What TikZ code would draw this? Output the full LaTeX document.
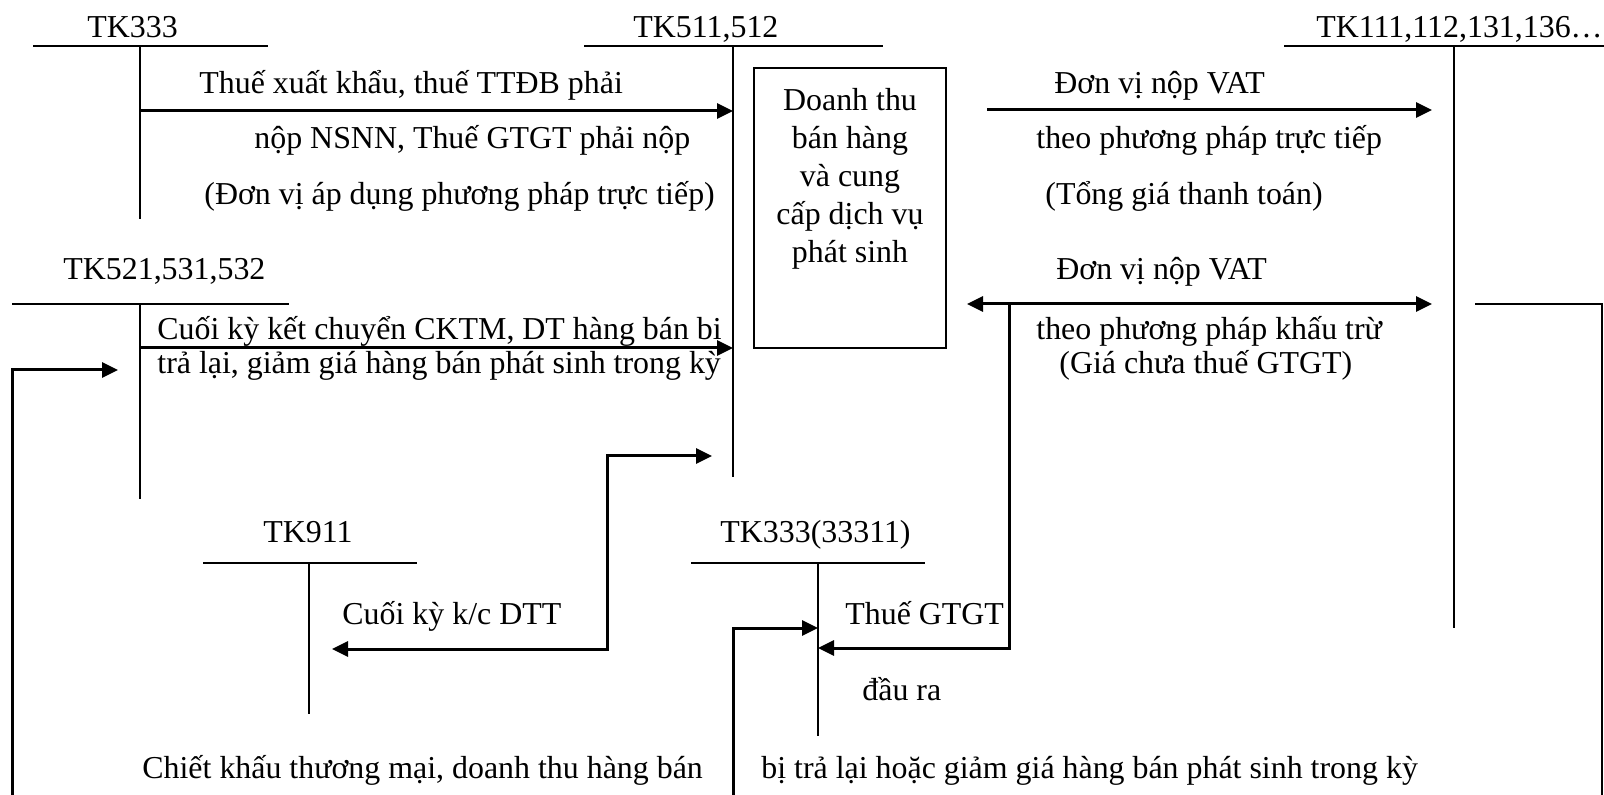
\documentclass[tikz,border=0pt]{standalone}
\usepackage{fontspec}
\setmainfont{Liberation Serif}
\usetikzlibrary{arrows.meta}
\begin{document}
\begin{tikzpicture}[x=0.5pt,y=-0.5pt,
  lbl/.style={anchor=base west,inner sep=0pt,font=\fontsize{15.95}{18}\selectfont},
  mid/.style={lbl,anchor=base},
  acct/.style={line width=1.1pt},
  flow/.style={line width=1.5pt,-{Triangle[length=8pt,width=7.5pt]}},
  flowboth/.style={line width=1.5pt,{Triangle[length=8pt,width=7.5pt]}-{Triangle[length=8pt,width=7.5pt]}},
  thinwire/.style={line width=1.1pt}]
\useasboundingbox (0,0) rectangle (1604,795);

% ---- T-accounts ----
\node[lbl] (n333) at (87,38) {TK333};
\coordinate (t333L) at (33,46);   \coordinate (t333R) at (268,46);
\coordinate (t333T) at (140,46);  \coordinate (t333B) at (140,219);
\draw[acct] (t333L) -- (t333R) (t333T) -- (t333B);

\node[lbl] (n511) at (633,38) {TK511,512};
\coordinate (t511L) at (584,46);  \coordinate (t511R) at (883,46);
\coordinate (t511T) at (733,46);  \coordinate (t511B) at (733,477);
\draw[acct] (t511L) -- (t511R) (t511T) -- (t511B);

\node[lbl] (n111) at (1316,38) {TK111,112,131,136…};
\coordinate (t111L) at (1284,46); \coordinate (t111R) at (1604,46);
\coordinate (t111T) at (1454,46); \coordinate (t111B) at (1454,628);
\draw[acct] (t111L) -- (t111R) (t111T) -- (t111B);

\node[lbl] (n521) at (63,280) {TK521,531,532};
\coordinate (t521L) at (12,304);  \coordinate (t521R) at (289,304);
\coordinate (t521T) at (140,304); \coordinate (t521B) at (140,499);
\draw[acct] (t521L) -- (t521R) (t521T) -- (t521B);

\node[lbl] (n911) at (263,543) {TK911};
\coordinate (t911L) at (203,563); \coordinate (t911R) at (417,563);
\coordinate (t911T) at (309,563); \coordinate (t911B) at (309,714);
\draw[acct] (t911L) -- (t911R) (t911T) -- (t911B);

\node[lbl] (n33311) at (720,543) {TK333(33311)};
\coordinate (t3L) at (691,563);   \coordinate (t3R) at (925,563);
\coordinate (t3T) at (818,563);   \coordinate (t3B) at (818,736);
\draw[acct] (t3L) -- (t3R) (t3T) -- (t3B);

% ---- revenue box ----
\node[draw,line width=1.1pt,minimum width=96pt,minimum height=140pt,inner sep=0pt] (rev) at (850,208) {};
\node[mid] (rv1) at (850,111) {Doanh thu};
\node[mid] (rv2) at (850,149) {bán hàng};
\node[mid] (rv3) at (850,187) {và cung};
\node[mid] (rv4) at (850,225) {cấp dịch vụ};
\node[mid] (rv5) at (850,263) {phát sinh};

% ---- labels ----
\node[lbl] (l1) at (199,94)  {Thuế xuất khẩu, thuế TTĐB phải};
\node[lbl] (l2) at (254,149) {nộp NSNN, Thuế GTGT phải nộp};
\node[lbl] (l3) at (204,205) {(Đơn vị áp dụng phương pháp trực tiếp)};
\node[lbl] (l4) at (157,340) {Cuối kỳ kết chuyển CKTM, DT hàng bán bi};
\node[lbl] (l5) at (157,374) {trả lại, giảm giá hàng bán phát sinh trong kỳ};
\node[lbl] (r1) at (1054,94)  {Đơn vị nộp VAT};
\node[lbl] (r2) at (1036,149) {theo phương pháp trực tiếp};
\node[lbl] (r3) at (1045,205) {(Tổng giá thanh toán)};
\node[lbl] (r4) at (1056,280) {Đơn vị nộp VAT};
\node[lbl] (r5) at (1036,340) {theo phương pháp khấu trừ};
\node[lbl] (r6) at (1059,374) {(Giá chưa thuế GTGT)};
\node[lbl] (m1) at (342,624) {Cuối kỳ k/c DTT};
\node[lbl] (m2) at (845,624) {Thuế GTGT};
\node[lbl] (m3) at (862,700) {đầu ra};
\node[lbl] (b1) at (142,778) {Chiết khấu thương mại, doanh thu hàng bán};
\node[lbl] (b2) at (761,778) {bị trả lại hoặc giảm giá hàng bán phát sinh trong kỳ};

% ---- connector points ----
\coordinate (a1s) at (140,111);  \coordinate (a1e) at (733,111);
\coordinate (a2s) at (140,348);  \coordinate (a2e) at (733,348);
\coordinate (a3s) at (987,110);  \coordinate (a3e) at (1432,110);
\coordinate (a4s) at (967,304);  \coordinate (a4e) at (1432,304);
\coordinate (a5s) at (1009,304); \coordinate (a5k) at (1009,648); \coordinate (a5e) at (818,648);
\coordinate (a6s) at (332,649);  \coordinate (a6k1) at (607,649);
\coordinate (a6k2) at (607,456); \coordinate (a6e) at (712,456);
\coordinate (a7s) at (733,795);  \coordinate (a7k) at (733,628); \coordinate (a7e) at (818,628);
\coordinate (a8s) at (12,795);   \coordinate (a8k) at (12,370);  \coordinate (a8e) at (118,370);
\coordinate (a9s) at (1475,304); \coordinate (a9k) at (1602,304); \coordinate (a9e) at (1602,795);

% ---- connectors ----
\draw[flow] (a1s) -- (a1e);
\draw[flow] (a2s) -- (a2e);
\draw[flow] (a3s) -- (a3e);
\draw[flowboth] (a4s) -- (a4e);
\draw[flow] (a5s) -- (a5k) -- (a5e);
\draw[flowboth] (a6s) -- (a6k1) -- (a6k2) -- (a6e);
\draw[flow] (a7s) -- (a7k) -- (a7e);
\draw[flow] (a8s) -- (a8k) -- (a8e);
\draw[thinwire] (a9s) -- (a9k) -- (a9e);
\end{tikzpicture}
\end{document}
